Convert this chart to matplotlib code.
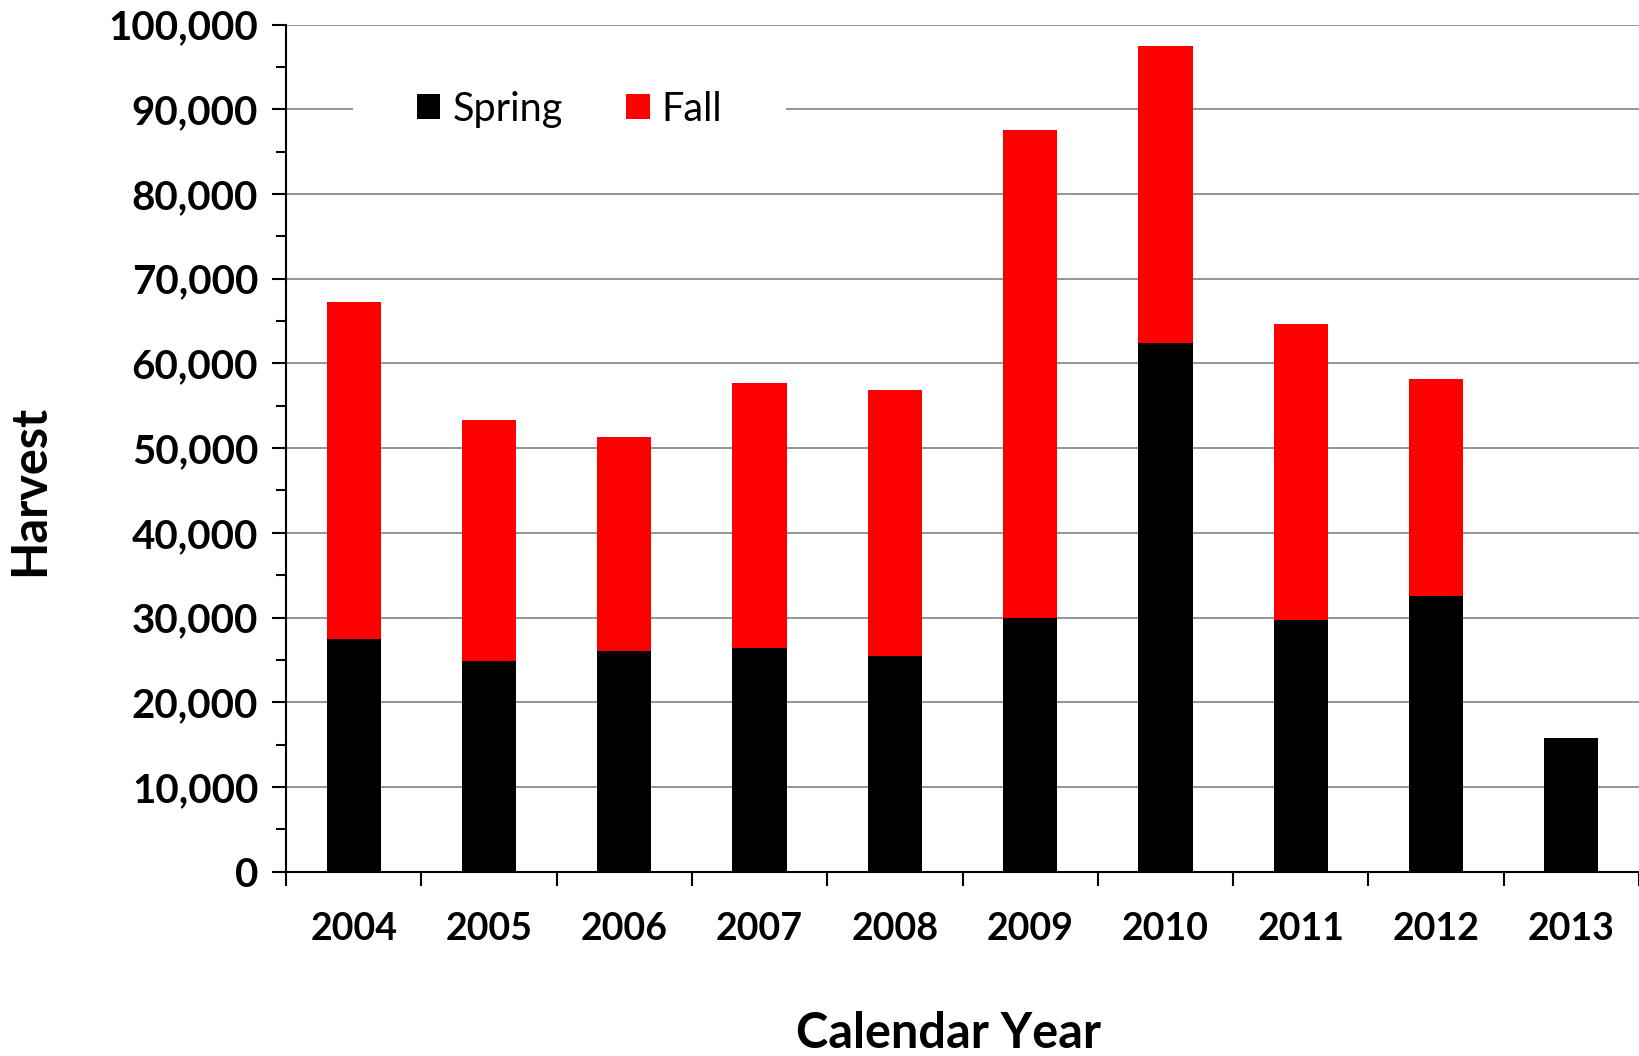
import matplotlib
matplotlib.use("Agg")
import matplotlib.pyplot as plt
from matplotlib.ticker import MultipleLocator, FuncFormatter, FixedLocator
import numpy as np

years = ["2004", "2005", "2006", "2007", "2008", "2009", "2010", "2011", "2012", "2013"]
spring = [27500, 24900, 26000, 26400, 25500, 30000, 62400, 29700, 32600, 15800]
fall = [39700, 28400, 25300, 31300, 31400, 57500, 35100, 34900, 25500, 0]

plt.rcParams['font.family'] = ['Lato', 'DejaVu Sans']

fig = plt.figure(figsize=(16.39, 10.56), dpi=100)
ax = fig.add_axes([286/1639, 1 - 871.7/1056, 1 - 286/1639, (871.7 - 24.5)/1056])

x = np.arange(len(years))
ax.bar(x, spring, width=0.4, color='black', label='Spring', zorder=3)
ax.bar(x, fall, width=0.4, bottom=spring, color='#ff0000', label='Fall', zorder=3)

ax.set_xlim(-0.5, len(years) - 0.5)
ax.set_ylim(0, 100000)
ax.yaxis.set_major_locator(MultipleLocator(10000))
ax.yaxis.set_minor_locator(MultipleLocator(5000))
ax.yaxis.set_major_formatter(FuncFormatter(lambda v, p: f"{int(v):,}"))
ax.grid(axis='y', which='major', color='#8c8c8c', linewidth=1.3, zorder=0)

ax.set_xticks(x)
ax.set_xticklabels(years)
ax.xaxis.set_minor_locator(FixedLocator(np.arange(-0.5, len(years), 1.0)))
ax.tick_params(axis='x', which='major', length=0, pad=29, labelsize=27)
ax.tick_params(axis='x', which='minor', length=10, width=1.5, direction='out')
ax.tick_params(axis='y', which='major', length=10, width=1.5, direction='out', labelsize=29, pad=10)
ax.tick_params(axis='y', which='minor', length=7, width=1.5, direction='out')
for lab in ax.get_xticklabels() + ax.get_yticklabels():
    lab.set_fontweight('bold')

for s in ['top', 'right']:
    ax.spines[s].set_visible(False)
for s in ['left', 'bottom']:
    ax.spines[s].set_linewidth(1.5)

ax.set_xlabel('Calendar Year', fontsize=35, fontweight='bold')
ax.set_ylabel('Harvest', fontsize=35, fontweight='bold')
ax.xaxis.set_label_coords(0.49, -0.165)
ax.yaxis.set_label_coords(-0.173, 0.45)

leg = ax.legend(loc='center left', bbox_to_anchor=(0.0498, 0.9), ncol=2, fontsize=28.5,
                frameon=True, fancybox=False, framealpha=1, edgecolor='white',
                handlelength=0.6, handleheight=0.6, handletextpad=0.3,
                columnspacing=1.6, borderpad=1.6, borderaxespad=0)
leg.get_frame().set_linewidth(0)

fig.savefig('out.png', dpi=100)
